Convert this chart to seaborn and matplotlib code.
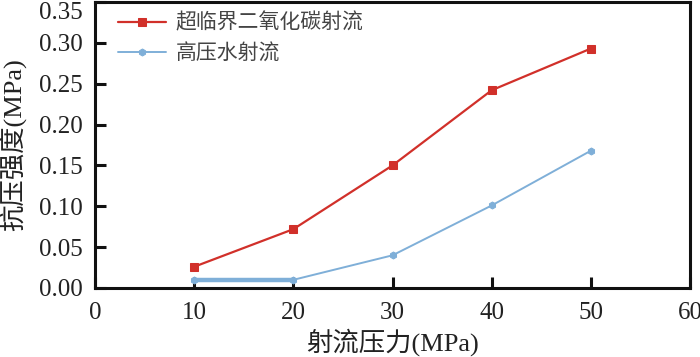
import numpy as np
import pandas as pd
import matplotlib
matplotlib.use('Agg')
import matplotlib.pyplot as plt
import seaborn as sns

# данные
pressure = [10, 20, 30, 40, 50]
co2_strength = [0.026, 0.072, 0.150, 0.242, 0.293]
water_strength = [0.010, 0.010, 0.040, 0.101, 0.168]
label_co2 = '超临界二氧化碳射流'
label_water = '高压水射流'

sns.set_style('ticks')
plt.rcParams['font.family'] = ['Liberation Serif', 'Noto Sans CJK SC']
plt.rcParams['axes.unicode_minus'] = False

red = '#d1302a'
blue = '#7fafd8'

fig, ax = plt.subplots(figsize=(7, 3.57), dpi=100)
fig.subplots_adjust(left=95/700, right=690/700, top=1-2/357, bottom=1-288/357)

sns.lineplot(x=pressure, y=co2_strength, ax=ax, color=red, linewidth=1.6,
             marker='s', markersize=5.5, markeredgecolor=red, label=label_co2)
sns.lineplot(x=pressure, y=water_strength, ax=ax, color=blue, linewidth=1.4,
             marker='h', markersize=5, markeredgecolor=blue, label=label_water)
# первый отрезок синей линии на оригинале толще
ax.plot(pressure[:2], water_strength[:2], color=blue, linewidth=3.2, zorder=1.5)

ax.set_xlim(0, 60)
ax.set_ylim(0, 0.35)
ax.set_xticks(np.arange(0, 61, 10))
ax.set_yticks(np.arange(0, 0.351, 0.05))
ax.yaxis.set_major_formatter(matplotlib.ticker.FormatStrFormatter('%.2f'))

for s in ax.spines.values():
    s.set_linewidth(2.2)
    s.set_color('#111111')
ax.tick_params(direction='in', length=8, width=2.2, labelsize=18,
               labelcolor='#222222', color='#111111')
ax.tick_params(axis='y', pad=9)
ax.tick_params(axis='x', pad=10)

# верхняя метка на оригинале сдвинута вниз, чтобы не обрезаться
fig.canvas.draw()
ax.get_yticklabels()[-1].set_va('top')

ax.set_xlabel('射流压力(MPa)', fontsize=19, color='#222222', labelpad=3)
ax.set_ylabel('抗压强度(MPa)', fontsize=19, color='#222222', labelpad=8)

leg = ax.legend(loc='upper left', frameon=False, fontsize=15, handlelength=2.3,
                borderaxespad=0, borderpad=0, labelspacing=0.5, handletextpad=0.45,
                bbox_to_anchor=(0.039, 0.96))
for t in leg.get_texts():
    t.set_color('#444444')

fig.savefig('out.png', dpi=100)
